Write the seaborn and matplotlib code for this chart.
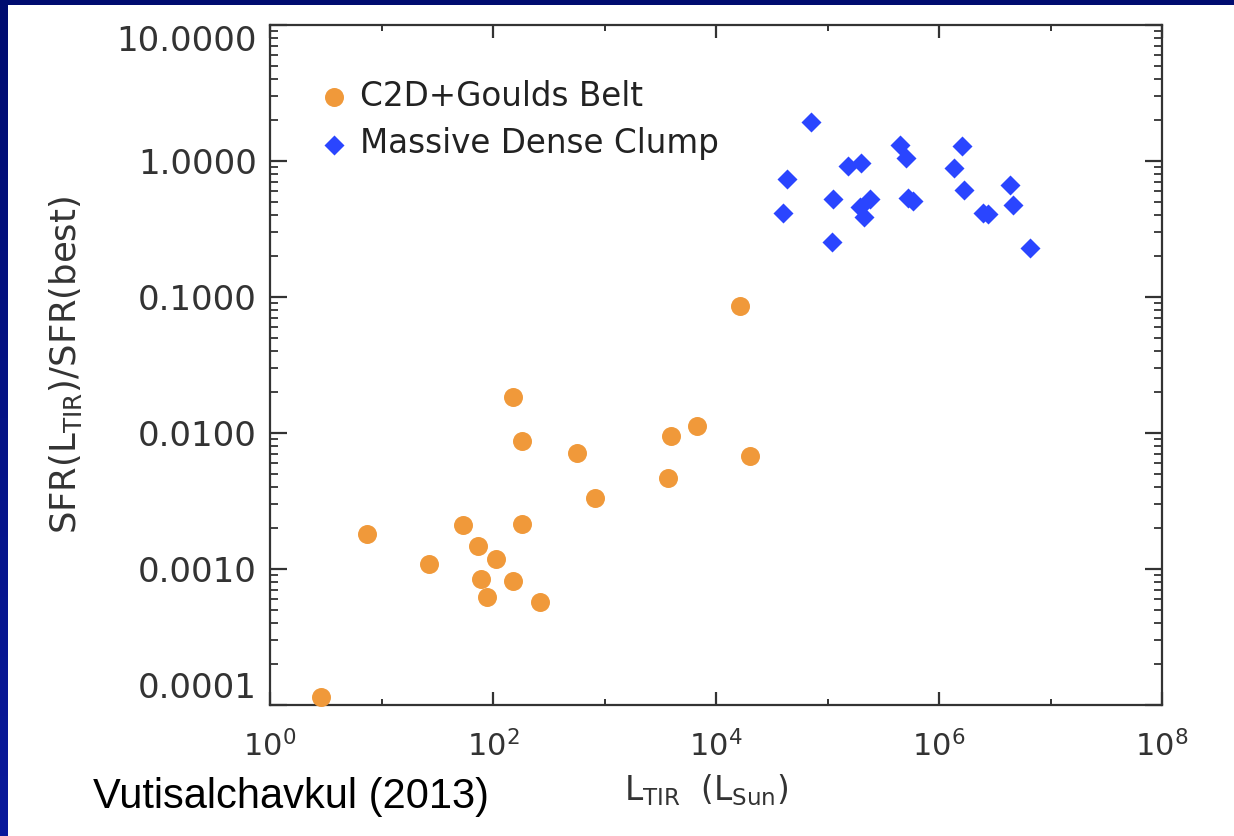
import numpy as np
import pandas as pd
import matplotlib
matplotlib.use("Agg")
import matplotlib.pyplot as plt
import seaborn as sns
from matplotlib.ticker import FixedLocator, LogLocator, NullFormatter

# ---------------- data ----------------
c2d_lum = [2.87, 7.41, 26.7, 53.8, 73.3, 78.0, 88.3, 106, 151, 151,
           182, 182, 264, 567, 822, 3715, 3947, 6760, 16400, 20200]
c2d_ratio = [1.15e-4, 1.81e-3, 1.09e-3, 2.11e-3, 1.48e-3, 8.44e-4, 6.22e-4,
             1.19e-3, 8.16e-4, 1.84e-2, 8.73e-3, 2.14e-3, 5.72e-4, 7.13e-3,
             3.33e-3, 4.67e-3, 9.51e-3, 1.12e-2, 8.59e-2, 6.78e-3]

mdc_lum = [71100, 43100, 40100, 109000, 113000, 154000, 199000, 196000,
           240000, 212000, 447000, 506000, 531000, 589000, 1.60e6, 1.36e6,
           1.68e6, 2.50e6, 2.77e6, 4.33e6, 4.64e6, 6.55e6]
mdc_ratio = [1.93, 0.738, 0.417, 0.252, 0.523, 0.918, 0.962, 0.461, 0.523,
             0.385, 1.31, 1.05, 0.532, 0.508, 1.30, 0.883, 0.612, 0.412,
             0.406, 0.667, 0.475, 0.231]

series_names = ["C2D+Goulds Belt", "Massive Dense Clump"]

x_major_ticks = [1, 1e2, 1e4, 1e6, 1e8]
x_minor_ticks = [1e1, 1e3, 1e5, 1e7]
x_tick_labels = [r"$10^{0}$", r"$10^{2}$", r"$10^{4}$", r"$10^{6}$", r"$10^{8}$"]
y_ticks = [1e-4, 1e-3, 1e-2, 1e-1, 1, 10]
y_tick_labels = ["0.0001", "0.0010", "0.0100", "0.1000", "1.0000", "10.0000"]

x_label = r"L$_{\rm TIR}$  (L$_{\rm Sun}$)"
y_label = r"SFR(L$_{\rm TIR}$)/SFR(best)"
credit = "Vutisalchavkul (2013)"

# ---------------- style ----------------
sns.set_style("white")
plt.rcParams["font.family"] = ["DejaVu Sans"]
plt.rcParams["mathtext.fontset"] = "dejavusans"

orange = "#F0993A"
blue = "#2A45FF"
txt = "#333333"

W, H = 1234, 836
fig = plt.figure(figsize=(W / 100, H / 100), dpi=100)
fig.patch.set_facecolor("white")

# navy slide border (top strip and left strip with gradient)
top = np.zeros((5, W, 3))
top[:] = np.array([0, 12, 112]) / 255
fig.figimage(top, xo=0, yo=H - 5, origin="upper", zorder=5)
t = np.linspace(0, 1, H)[:, None, None]
c0 = np.array([0, 12, 112]) / 255
c1 = np.array([10, 26, 156]) / 255
left = np.repeat(c0 + (c1 - c0) * t, 8, axis=1)
fig.figimage(left, xo=0, yo=0, origin="upper", zorder=5)

ax = fig.add_axes([270 / W, 1 - 705 / H, 892 / W, 680 / H])

df1 = pd.DataFrame({"L": c2d_lum, "R": c2d_ratio})
df2 = pd.DataFrame({"L": mdc_lum, "R": mdc_ratio})
sns.scatterplot(data=df1, x="L", y="R", ax=ax, color=orange, marker="o",
                s=187, linewidth=0, label=series_names[0], clip_on=False,
                zorder=3)
sns.scatterplot(data=df2, x="L", y="R", ax=ax, color=blue, marker="D",
                s=104, linewidth=0, label=series_names[1], clip_on=False,
                zorder=3)

ax.set_xscale("log")
ax.set_yscale("log")
ax.set_xlim(1, 1e8)
ax.set_ylim(1e-4, 10)

ax.xaxis.set_major_locator(FixedLocator(x_major_ticks))
ax.xaxis.set_minor_locator(FixedLocator(x_minor_ticks))
ax.xaxis.set_minor_formatter(NullFormatter())
ax.set_xticks(x_major_ticks)
ax.set_xticklabels(x_tick_labels)

ax.yaxis.set_major_locator(FixedLocator(y_ticks))
ax.yaxis.set_minor_locator(LogLocator(base=10, subs=np.arange(2, 10), numticks=20))
ax.yaxis.set_minor_formatter(NullFormatter())
ax.set_yticks(y_ticks)
ax.set_yticklabels(y_tick_labels)

for s in ax.spines.values():
    s.set_color(txt)
    s.set_linewidth(1.6)

ax.tick_params(which="both", direction="in", top=True, right=True,
               bottom=True, left=True, color=txt, labelcolor=txt)
ax.tick_params(axis="x", which="major", length=9.5, width=1.6, labelsize=22, pad=18)
ax.tick_params(axis="x", which="minor", length=4.5, width=1.4)
ax.tick_params(axis="y", which="major", length=12, width=1.6, labelsize=24.5, pad=9.5)
ax.tick_params(axis="y", which="minor", length=6, width=1.3)

yt = ax.yaxis.get_major_ticks()
yt[0].label1.set_verticalalignment("bottom")
yt[-1].label1.set_verticalalignment("top")

ax.set_xlabel(x_label, fontsize=23.5, color=txt)
ax.xaxis.set_label_coords((706 - 270) / 892, (705 - 772) / 680)
ax.set_ylabel(y_label, fontsize=25.5, color=txt)
ax.yaxis.set_label_coords((84 - 270) / 892, 0.5)

leg = ax.legend(loc="upper left", bbox_to_anchor=((305 - 270) / 892, (705 - 67) / 680),
                frameon=False, fontsize=23.5, handlelength=1.0, handletextpad=0.3,
                labelspacing=0.44, borderpad=0.4, borderaxespad=0)
for tx in leg.get_texts():
    tx.set_color("#222222")

fig.text(93 / W, 1 - 808 / H, credit, fontsize=30, family=["Liberation Sans", "DejaVu Sans"],
         color="black", ha="left", va="baseline")

fig.savefig("out.png", dpi=100, facecolor="white")
